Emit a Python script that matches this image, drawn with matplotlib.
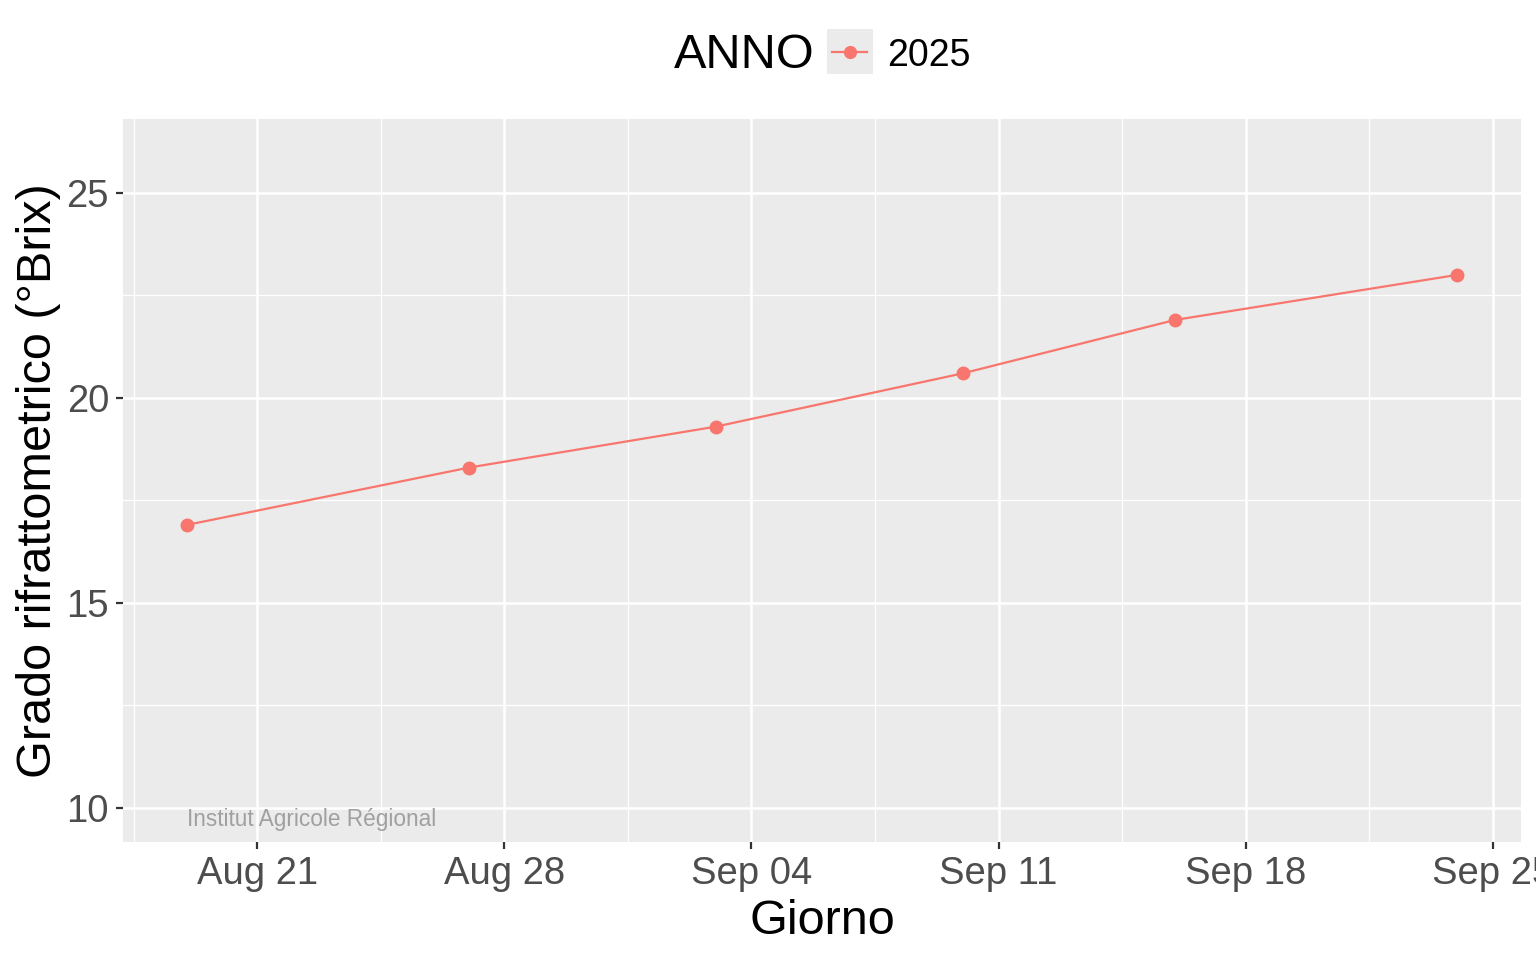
import matplotlib
matplotlib.use("Agg")
import matplotlib.pyplot as plt
import matplotlib.dates as mdates
from matplotlib.patches import Rectangle
from matplotlib.lines import Line2D
from datetime import datetime, timedelta

plt.rcParams['font.family'] = ['Liberation Sans', 'DejaVu Sans']

# Data
dates = ["2025-08-19", "2025-08-27", "2025-09-03", "2025-09-10", "2025-09-16", "2025-09-24"]
brix = [16.9, 18.3, 19.3, 20.6, 21.9, 23.0]
series_label = "2025"
legend_title = "ANNO"
major_ticks = ["2025-08-21", "2025-08-28", "2025-09-04", "2025-09-11", "2025-09-18", "2025-09-25"]
y_ticks = [10, 15, 20, 25]
y_limits = (9.17, 26.8)

color = "#F8766D"
W, H = 1536, 960
fig = plt.figure(figsize=(W / 100, H / 100), dpi=100)
ax_l, ax_r, ax_t, ax_b = 123, 1521, 119, 842
ax = fig.add_axes([ax_l / W, 1 - ax_b / H, (ax_r - ax_l) / W, (ax_b - ax_t) / H])
ax.set_facecolor("#EBEBEB")
for s in ax.spines.values():
    s.set_visible(False)

x = [datetime.strptime(d, "%Y-%m-%d") for d in dates]
ax.plot(x, brix, color=color, linewidth=1.6, marker='o', markersize=9, zorder=3)

span = x[-1] - x[0]
ax.set_xlim(x[0] - span * 0.05, x[-1] + span * 0.05)
ax.set_ylim(*y_limits)

mt = [datetime.strptime(d, "%Y-%m-%d") for d in major_ticks]
minor = [mt[0] - timedelta(days=3.5)] + [a + (b - a) / 2 for a, b in zip(mt[:-1], mt[1:])]
ax.set_xticks(mt)
ax.set_xticks(minor, minor=True)
ax.xaxis.set_major_formatter(mdates.DateFormatter("%b %d"))
ax.set_yticks(y_ticks)
ax.set_yticks([12.5, 17.5, 22.5], minor=True)

ax.grid(which='major', color='white', linewidth=1.8)
ax.grid(which='minor', color='white', linewidth=0.9)
ax.set_axisbelow(True)
ax.tick_params(which='major', length=5, width=1.6, color='#333333', labelsize=27.5,
               labelcolor='#4D4D4D')
ax.tick_params(axis='y', pad=5)
ax.tick_params(axis='x', pad=5)
ax.tick_params(which='minor', length=0)
for lab in ax.get_xticklabels():
    lab.set_clip_on(False)

ax.set_xlabel("Giorno", fontsize=35, color='black')
ax.xaxis.set_label_coords(0.5, -(934 - ax_b) / (ax_b - ax_t))
ax.xaxis.label.set_va('baseline')
ax.set_ylabel("Grado rifrattometrico (°Brix)", fontsize=35, color='black')
ax.yaxis.set_label_coords(-(ax_l - 51) / (ax_r - ax_l), 0.5)
ax.yaxis.label.set_rotation_mode('anchor')
ax.yaxis.label.set_va('baseline')
ax.yaxis.label.set_ha('center')

ax.text(x[0], 9.73, "Institut Agricole Régional", fontsize=16.3, color='#A0A0A0',
        ha='left', va='center', zorder=4)

# Legend (top, horizontal)
fig.text(674 / W, 1 - 68 / H, legend_title, fontsize=35, color='black', ha='left', va='baseline')
fig.patches.append(Rectangle((827 / W, 1 - 74 / H), 46 / W, 45 / H, transform=fig.transFigure,
                             facecolor='#EBEBEB', edgecolor='none'))
fig.lines.append(Line2D([832 / W, 867 / W], [1 - 51.5 / H, 1 - 51.5 / H], transform=fig.transFigure,
                        color=color, linewidth=1.6))
fig.lines.append(Line2D([849.5 / W], [1 - 51.5 / H], transform=fig.transFigure, color=color,
                        marker='o', markersize=8.5, linestyle='none'))
fig.text(887 / W, 1 - 66.5 / H, series_label, fontsize=27, color='black', ha='left', va='baseline')

fig.savefig("out.png", dpi=100)
